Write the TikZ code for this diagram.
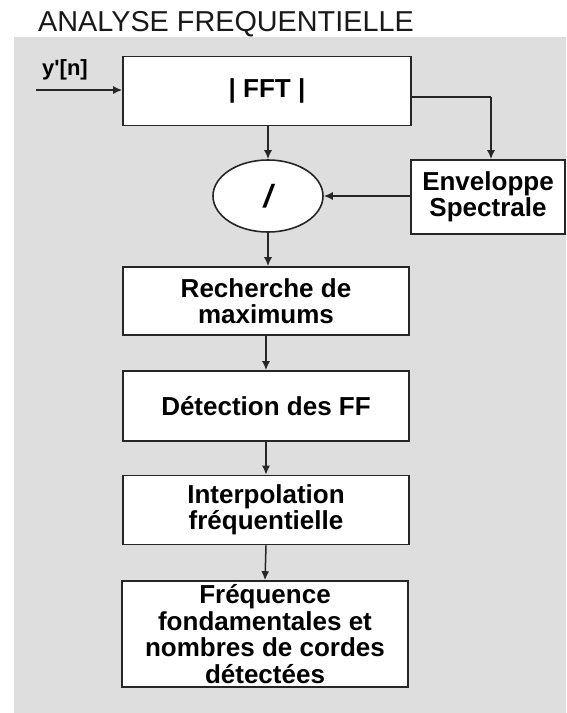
\documentclass[tikz,border=0pt]{standalone}
\usepackage{fontspec}
\setmainfont{Liberation Sans}
\usetikzlibrary{arrows.meta,shapes.geometric}
\newcommand{\straightq}{\XeTeXglyph\XeTeXcharglyph"27\relax}
\begin{document}
\begin{tikzpicture}[x=1pt,y=-1pt,
  blk/.style={draw=black!85,line width=1.6pt,fill=white,minimum width=286pt,align=center,inner sep=0pt,font=\bfseries\fontsize{26}{26.5}\selectfont},
  arr/.style={draw=black!85,line width=1.5pt,-{Latex[length=9pt,width=8pt]}},
  lin/.style={draw=black!85,line width=1.5pt}]
\useasboundingbox (0,0) rectangle (566,713);
\fill[white] (0,0) rectangle (566,713);
\fill[black!13] (14,37) rectangle (566,713);
\node[font=\fontsize{28.8}{30}\selectfont,anchor=base,text=black!90] (title) at (226,31) {ANALYSE FREQUENTIELLE};
\node[font=\bfseries\fontsize{22}{24}\selectfont] (yn) at (65,70) {y\straightq[n]};
\node[blk,minimum width=288pt,minimum height=69pt] (fft) at (267,91) {| FFT |};
\node[draw=black!85,line width=1.6pt,fill=white,ellipse,minimum width=110pt,minimum height=72pt,inner sep=0pt,font=\bfseries\itshape\fontsize{32}{32}\selectfont] (div) at (268,196) {/};
\node[blk,minimum width=154pt,minimum height=74pt] (env) at (488,197) {Enveloppe\\Spectrale};
\node[blk,minimum height=68pt] (rech) at (266,301) {Recherche de\\maximums};
\node[blk,minimum height=70pt] (det) at (266,406) {D\'etection des FF};
\node[blk,minimum height=69pt] (interp) at (266,510) {Interpolation\\fr\'equentielle};
\node[blk,minimum height=106pt] (freq) at (265,634) {Fr\'equence\\fondamentales et\\nombres de cordes\\d\'etect\'ees};
\coordinate (in) at (36,90);
\coordinate (c1) at (491,97);
\draw[arr] (in) -- (fft.west|-in);
\draw[lin] (fft.east|-c1) -- (c1);
\draw[arr] (c1) -- (env.north-|c1);
\draw[arr] (fft.south-|div) -- (div.north);
\draw[arr] (env.west|-div) -- (div.east);
\draw[arr] (div.south) -- (rech.north-|div);
\draw[arr] (rech.south) -- (det.north);
\draw[arr] (det.south) -- (interp.north);
\draw[arr] (interp.south) -- (freq.north);
\end{tikzpicture}
\end{document}
